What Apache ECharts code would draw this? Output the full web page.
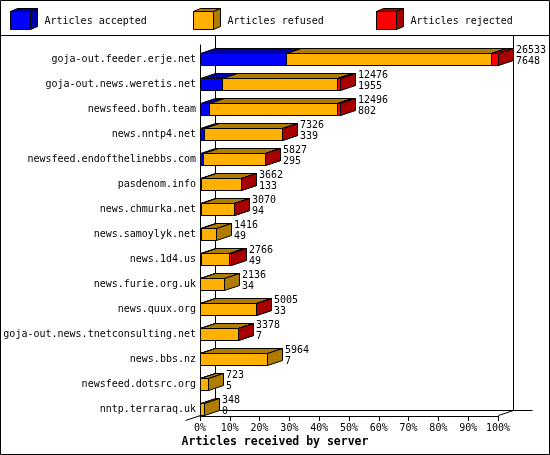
<!DOCTYPE html>
<html>
<head>
<meta charset="utf-8">
<script src="https://cdn.jsdelivr.net/npm/echarts@6/dist/echarts.min.js"></script>
<style>
html, body { margin: 0; padding: 0; background: #fff; }
#main { width: 550px; height: 455px; }
</style>
</head>
<body>
<div id="main"></div>
<script>
// servers, top to bottom
var hosts = ['goja-out.feeder.erje.net', 'goja-out.news.weretis.net', 'newsfeed.bofh.team',
	'news.nntp4.net', 'newsfeed.endofthelinebbs.com', 'pasdenom.info', 'news.chmurka.net',
	'news.samoylyk.net', 'news.1d4.us', 'news.furie.org.uk', 'news.quux.org',
	'goja-out.news.tnetconsulting.net', 'news.bbs.nz', 'newsfeed.dotsrc.org', 'nntp.terraraq.uk'];
// numbers printed right of the bars
var offered = [26533, 12476, 12496, 7326, 5827, 3662, 3070, 1416, 2766, 2136, 5005, 3378, 5964, 723, 348];
var accepted = [7648, 1955, 802, 339, 295, 133, 94, 49, 49, 34, 33, 7, 7, 5, 0];
var refused = [18235, 10221, 11394, 6947, 5502, 3509, 2956, 1367, 2567, 2102, 4942, 3351, 5957, 718, 348];
var rejected = [650, 300, 300, 40, 30, 20, 20, 0, 150, 0, 30, 20, 0, 0, 0];
var ticks = [0, 10, 20, 30, 40, 50, 60, 70, 80, 90, 100];

var legendNames = ['Articles accepted', 'Articles refused', 'Articles rejected'];
var frontColors = ['#0000ff', '#ffb000', '#ff0000'];
var darkColors = ['#0000a8', '#b07c00', '#a80000'];

var DX = 15, DY = 5, HALF = 6;
var FONT = '"DejaVu Sans Mono", monospace';

var maxTotal = Math.max.apply(null, offered);
function pct(v) {
	return v / maxTotal * 100;
}

var segData = [];
var parts = [accepted, refused, rejected];
for (var i = 0; i < hosts.length; i++) {
	var s = 0;
	for (var k = 0; k < parts.length; k++) {
		var v = parts[k][i];
		if (v > 0) {
			segData.push([pct(s), pct(s + v), i, k]);
		}
		s += v;
	}
}
var labelData = [];
for (var i = 0; i < hosts.length; i++) {
	labelData.push([pct(offered[i]), i, offered[i], accepted[i]]);
}

function renderBar(params, api) {
	var p0 = api.coord([api.value(0), api.value(2)]);
	var p1 = api.coord([api.value(1), api.value(2)]);
	var seg = api.value(3);
	var l = Math.round(p0[0]) + 0.5;
	var r = Math.round(p1[0]) + 0.5;
	var t = Math.floor(p0[1] - HALF) + 0.5;
	var b = t + 2 * HALF;
	var line = { stroke: '#000', lineWidth: 1 };
	return {
		type : 'group',
		children : [ {
			type : 'polygon',
			shape : { points : [ [ l, t ], [ r, t ], [ r + DX, t - DY ], [ l + DX, t - DY ] ] },
			style : { fill : darkColors[seg], stroke : '#000', lineWidth : 1 }
		}, {
			type : 'polygon',
			shape : { points : [ [ r, t ], [ r, b ], [ r + DX, b - DY ], [ r + DX, t - DY ] ] },
			style : { fill : darkColors[seg], stroke : '#000', lineWidth : 1 }
		}, {
			type : 'rect',
			shape : { x : l, y : t, width : r - l, height : b - t },
			style : { fill : frontColors[seg], stroke : '#000', lineWidth : 1 }
		} ]
	};
}

function renderLabel(params, api) {
	var p = api.coord([api.value(0), api.value(1)]);
	return {
		type : 'text',
		style : {
			text : api.value(2) + '\n' + api.value(3),
			x : Math.round(p[0]) + DX + 3,
			y : p[1] - 4,
			verticalAlign : 'middle',
			font : '10px ' + FONT,
			lineHeight : 11,
			fill : '#000'
		}
	};
}

var chart = echarts.init(document.getElementById('main'));
var option = {
	animation : false,
	backgroundColor : '#fff',
	title : {
		text : 'Articles received by server',
		left : 'center',
		top : 436,
		padding : 0,
		textStyle : { fontFamily : FONT, fontWeight : 'bold', fontSize : 11.5, color : '#000' }
	},
	grid : { left : 200, right : 52, top : 47, bottom : 33 },
	xAxis : {
		type : 'value',
		min : ticks[0],
		max : ticks[ticks.length - 1],
		interval : ticks[1] - ticks[0],
		offset : -6,
		axisLine : { show : true, lineStyle : { color : '#000', width : 1 } },
		axisTick : { show : true, length : 5, lineStyle : { color : '#000' } },
		axisLabel : { formatter : '{value}%', fontFamily : FONT, fontSize : 10, color : '#000', margin : 7 },
		splitLine : { show : false }
	},
	yAxis : {
		type : 'category',
		data : hosts,
		inverse : true,
		axisLine : { show : false },
		axisTick : { show : false },
		axisLabel : { fontFamily : FONT, fontSize : 10, color : '#000', margin : 4 }
	},
	series : [ {
		type : 'custom',
		renderItem : renderBar,
		encode : { x : [ 0, 1 ], y : 2 },
		data : segData
	}, {
		type : 'custom',
		renderItem : renderLabel,
		encode : { x : 0, y : 1 },
		data : labelData,
		z : 3
	} ]
};
chart.setOption(option);

// frame: walls, floor, legend
var o = chart.convertToPixel({ gridIndex : 0 }, [ 0, 0 ]);
var e = chart.convertToPixel({ gridIndex : 0 }, [ 100, hosts.length - 1 ]);
var xL = Math.round(o[0]) + 0.5, xR = Math.round(e[0]) + 0.5;
var yF = Math.floor(e[1] + HALF) + 0.5;
var yTop = Math.floor(o[1] - HALF - DY - 4) + 0.5;
var ySep = 35.5;
var lineStyle = { stroke : '#000', lineWidth : 1 };
function seg(x1, y1, x2, y2) {
	return { type : 'line', shape : { x1 : x1, y1 : y1, x2 : x2, y2 : y2 }, style : lineStyle, silent : true };
}
var g = [
	{ type : 'rect', shape : { x : 0.5, y : 0.5, width : 549, height : 454 }, style : { fill : 'none', stroke : '#000', lineWidth : 1 } },
	seg(0, ySep, 550, ySep),
	seg(xL, yTop, xL, yF),
	seg(xL + DX, ySep, xL + DX, yF - DY),
	seg(xR + DX, ySep, xR + DX, yF - DY),
	seg(xL + DX, yF - DY, xR + DX + 19, yF - DY),
	seg(xR, yF, xR + DX, yF - DY),
	seg(xL - DX, yF + DY, xL, yF)
];
var legX = [ 10.5, 193.5, 376.5 ];
for (var k = 0; k < legendNames.length; k++) {
	var lx = legX[k], ly = 11.5, w = 20, h = 18, dx = 7, dy = 3;
	g.push({ type : 'polygon', shape : { points : [ [ lx, ly ], [ lx + w, ly ], [ lx + w + dx, ly - dy ], [ lx + dx, ly - dy ] ] },
		style : { fill : darkColors[k], stroke : '#000', lineWidth : 1 } });
	g.push({ type : 'polygon', shape : { points : [ [ lx + w, ly ], [ lx + w, ly + h ], [ lx + w + dx, ly + h - dy ], [ lx + w + dx, ly - dy ] ] },
		style : { fill : darkColors[k], stroke : '#000', lineWidth : 1 } });
	g.push({ type : 'rect', shape : { x : lx, y : ly, width : w, height : h },
		style : { fill : frontColors[k], stroke : '#000', lineWidth : 1 } });
	g.push({ type : 'text', x : lx + 34, y : 21.5,
		style : { text : legendNames[k], font : '10px ' + FONT, fill : '#000', verticalAlign : 'middle' } });
}
chart.setOption({ graphic : g });
</script>
</body>
</html>
